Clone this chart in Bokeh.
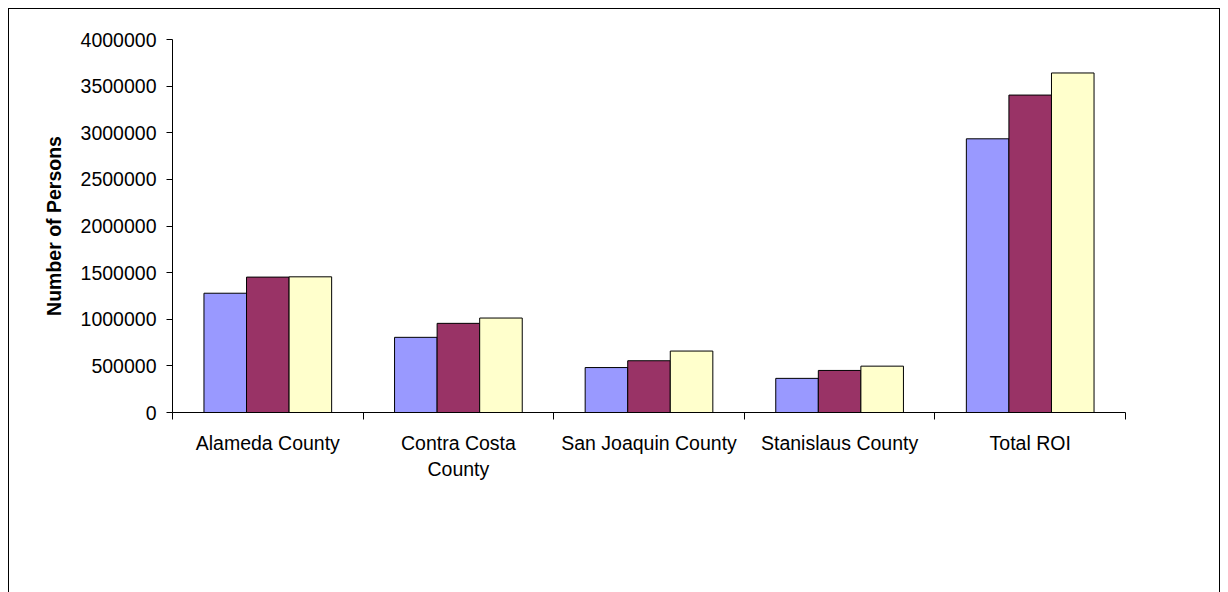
from bokeh.plotting import figure
from bokeh.models import (Range1d, FixedTicker, SingleIntervalTicker,
                          BasicTickFormatter, Legend, LegendItem, ColumnDataSource)
from bokeh.embed import file_html
from bokeh.resources import INLINE

# ---- data ----
categories = ["Alameda County", "Contra Costa County", "San Joaquin County",
              "Stanislaus County", "Total ROI"]
tick_labels = ["Alameda County", "Contra Costa\nCounty", "San Joaquin County",
               "Stanislaus County", "Total ROI"]
years = ["1990", "2000", "2005"]
pop_1990 = [1279000, 806000, 482000, 366000, 2935000]
pop_2000 = [1452000, 956000, 555000, 451000, 3404000]
pop_2005 = [1455000, 1013000, 659000, 497000, 3641000]
y_ticks_step = 500000
y_max = 4000000

colors = ["#9999FF", "#993366", "#FFFFCC"]
FONT = "Liberation Sans"
BAR_W = 0.2233

p = figure(width=1228, height=592, frame_width=953, frame_height=373,
           x_range=Range1d(0, len(categories)),
           y_range=Range1d(0, y_max), output_backend="svg", toolbar_location=None,
           min_border_left=172, min_border_right=103, min_border_top=39,
           min_border_bottom=180)
p.xgrid.visible = False
p.ygrid.visible = False
p.outline_line_color = None
p.border_fill_color = None
p.background_fill_color = None
p.styles = {"box-shadow": "inset 8px 8px 0 0 #fff, inset -8px 0 0 0 #fff, "
                          "inset 9px 9px 0 0 #000, inset -9px 0 0 0 #000"}

# x axis: labels at category centres, minor ticks at category boundaries
centers = [i + 0.5 for i in range(len(categories))]
bounds = list(range(len(categories) + 1))
xa = p.xaxis[0]
xa.ticker = FixedTicker(ticks=centers, minor_ticks=bounds)
xa.major_label_overrides = {c: t for c, t in zip(centers, tick_labels)}
xa.major_tick_line_color = None
xa.major_tick_out = 0
xa.major_tick_in = 0
xa.minor_tick_line_color = "black"
xa.minor_tick_out = 7
xa.minor_tick_in = 0
xa.axis_line_color = "black"
xa.major_label_standoff = 12
xa.major_label_text_font = FONT
xa.major_label_text_font_size = "19.5px"
xa.major_label_text_color = "black"

ya = p.yaxis[0]
ya.ticker = SingleIntervalTicker(interval=y_ticks_step, num_minor_ticks=0)
ya.formatter = BasicTickFormatter(use_scientific=False)
ya.major_tick_out = 6
ya.major_tick_in = 0
ya.minor_tick_line_color = None
ya.major_label_standoff = 10
ya.major_label_text_font = FONT
ya.major_label_text_font_size = "19.5px"
ya.major_label_text_color = "black"
ya.axis_line_color = "black"
ya.major_tick_line_color = "black"
ya.axis_label = "Number of Persons"
ya.axis_label_text_font = FONT
ya.axis_label_text_font_size = "19.5px"
ya.axis_label_text_font_style = "bold"
ya.axis_label_text_color = "black"
ya.axis_label_standoff = 13

items = []
for j, (yr, vals) in enumerate(zip(years, [pop_1990, pop_2000, pop_2005])):
    xs = [i + 0.5 + (j - 1) * BAR_W for i in range(len(categories))]
    src = ColumnDataSource(dict(x=xs, top=vals, cat=categories))
    r = p.vbar(x="x", top="top", bottom=0, width=BAR_W, source=src,
               fill_color=colors[j], line_color="black", line_width=1)
    items.append(LegendItem(label=yr, renderers=[r]))

legend = Legend(items=items, orientation="horizontal", location=(349, 8),
                glyph_width=10, glyph_height=10, label_standoff=6, spacing=61,
                padding=0, margin=0, border_line_color=None, background_fill_alpha=0,
                label_text_font=FONT, label_text_font_size="16.5px",
                label_text_color="black")
p.add_layout(legend, "below")

open("out.html", "w").write(file_html(p, INLINE))
